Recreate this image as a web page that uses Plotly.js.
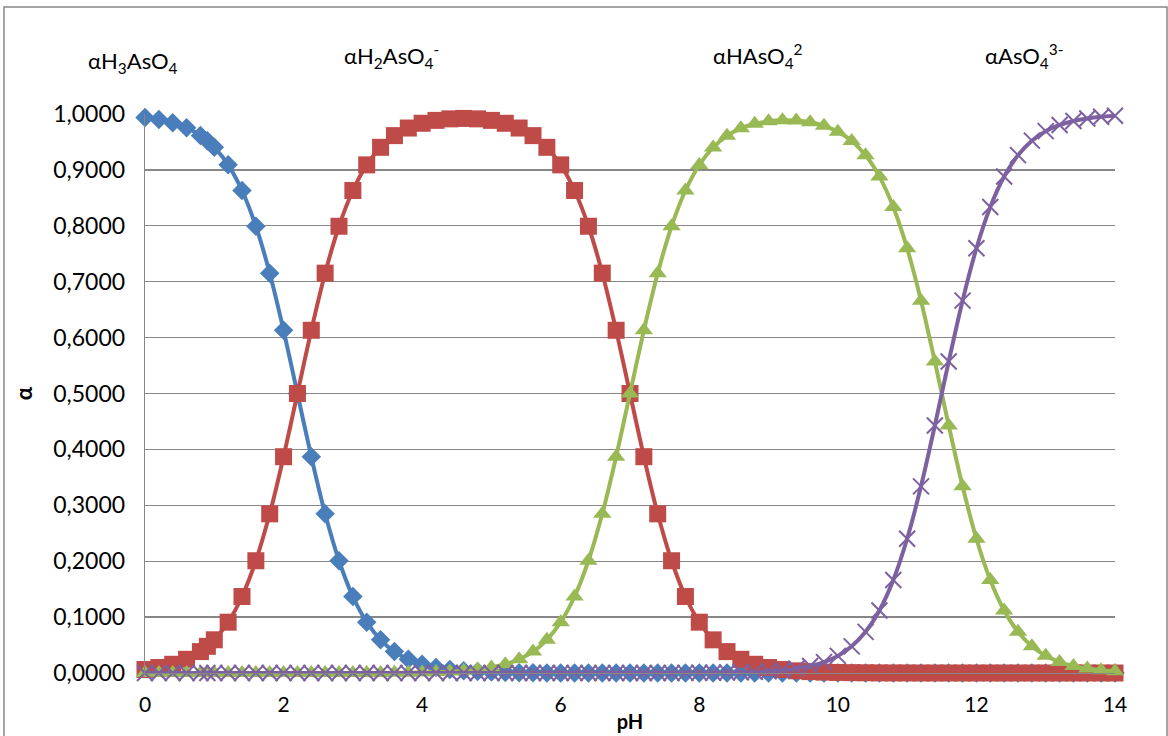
<!DOCTYPE html>
<html>
<head>
<meta charset="utf-8">
<script src="https://cdn.plot.ly/plotly-3.0.1.min.js"></script>
<style>
html,body{margin:0;padding:0;background:#fff;}
#chart{width:1168px;height:736px;}
</style>
</head>
<body>
<div id="chart"></div>
<script>
var pH = [0,0.2,0.4,0.6,0.8,0.9,1.0,1.2,1.4,1.6,1.8,2.0,2.2,2.4,2.6,2.8,3.0,3.2,3.4,3.6,3.8,4.0,4.2,4.4,4.6,4.8,5.0,5.2,5.4,5.6,5.8,6.0,6.2,6.4,6.6,6.8,7.0,7.2,7.4,7.6,7.8,8.0,8.2,8.4,8.6,8.8,9.0,9.2,9.4,9.6,9.8,10.0,10.2,10.4,10.6,10.8,11.0,11.2,11.4,11.6,11.8,12.0,12.2,12.4,12.6,12.8,13.0,13.2,13.4,13.6,13.8,14.0];

var aH3AsO4 = [0.9937,0.9901,0.9844,0.9755,0.9617,0.9523,0.9406,0.9091,0.8632,0.7992,0.7153,0.6131,0.5000,0.3869,0.2847,0.2008,0.1368,0.0909,0.0593,0.0383,0.0245,0.0156,0.0099,0.0062,0.0039,0.0025,0.0016,0.0010,0.0006,0.0004,0.0002,0.0002,0.0001,0.0001,
0,0,0,0,0,0,0,0,0,0,0,0,0,0,0,0,0,0,0,0,0,0,0,0,0,0,0,0,0,0,0,0,0,0,0,0,0,0];

var aH2AsO4 = [0.0063,0.0099,0.0156,0.0245,0.0383,0.0477,0.0594,0.0909,0.1368,0.2008,0.2847,0.3869,0.5000,0.6131,0.7153,0.7992,0.8631,0.9090,0.9404,0.9613,0.9749,0.9834,0.9886,0.9913,0.9921,0.9913,0.9886,0.9834,0.9749,0.9613,0.9404,0.9090,0.8631,0.7992,0.7153,0.6131,0.5000,0.3869,0.2847,0.2008,0.1368,0.0909,0.0593,0.0383,0.0245,0.0156,0.0099,0.0062,0.0039,0.0025,0.0016,0.0010,0.0006,0.0004,0.0002,0.0001,0.0001,
0,0,0,0,0,0,0,0,0,0,0,0,0,0,0];

var aHAsO4 = [0,0,0,0,0,0,0,0,0,0,0,0,0,0,0,0,
0.0001,0.0001,0.0002,0.0004,0.0006,0.0010,0.0016,0.0025,0.0039,0.0062,0.0099,0.0156,0.0245,0.0383,0.0593,0.0909,0.1368,0.2008,0.2847,0.3869,0.5000,0.6131,0.7152,0.7991,0.8631,0.9088,0.9402,0.9610,0.9743,0.9825,0.9870,0.9888,0.9882,0.9851,0.9789,0.9684,0.9517,0.9261,0.8880,0.8336,0.7597,0.6661,0.5573,0.4427,0.3339,0.2402,0.1663,0.1118,0.0736,0.0477,0.0307,0.0196,0.0124,0.0079,0.0050,0.0032];

var aAsO4 = [0,0,0,0,0,0,0,0,0,0,0,0,0,0,0,0,0,0,0,0,0,0,0,0,0,0,0,0,0,0,0,0,0,0,0,0,0,0,
0.0001,0.0001,0.0002,0.0003,0.0005,0.0008,0.0012,0.0020,0.0031,0.0050,0.0078,0.0124,0.0195,0.0306,0.0477,0.0736,0.1118,0.1663,0.2402,0.3339,0.4427,0.5573,0.6661,0.7598,0.8337,0.8882,0.9264,0.9523,0.9693,0.9804,0.9876,0.9921,0.9950,0.9968];

var speciesLabels = ['αH<sub>3</sub>AsO<sub>4</sub>','αH<sub>2</sub>AsO<sub>4</sub><sup>-</sup>','αHAsO<sub>4</sub><sup>2</sup>','αAsO<sub>4</sub><sup>3-</sup>'];
var labelX = [-0.0124, 0.2546, 0.632, 0.9062];
var labelY = [1.093, 1.104, 1.104, 1.104];

var FONT = 'Lato, "Open Sans", sans-serif';

function tr(y, color, sym, size, lineCol, lw) {
  var m = {symbol: sym, size: size, color: color};
  if (lineCol) { m.line = {color: lineCol, width: lw}; } else { m.line = {width: 0}; }
  return {x: pH, y: y, type: 'scatter', mode: 'lines+markers', cliponaxis: false,
    line: {color: color, width: 4, shape: 'spline', smoothing: 0.8},
    marker: m, showlegend: false, hoverinfo: 'x+y'};
}

var data = [
  tr(aH3AsO4, '#4A7EBB', 'diamond', 15),
  tr(aH2AsO4, '#BE4B48', 'square', 17),
  tr(aHAsO4, '#98B954', 'triangle-up', 16),
  tr(aAsO4, '#7D60A0', 'x-thin-open', 16, '#7D60A0', 2)
];

var annotations = speciesLabels.map(function(t, i){
  return {text: t, x: labelX[i], y: labelY[i], xref: 'paper', yref: 'paper', showarrow: false,
    xanchor: 'center', yanchor: 'middle', font: {family: FONT, size: 22, color: '#000'}};
});

var layout = {
  width: 1168, height: 736,
  margin: {l: 145, r: 53, t: 114, b: 63, pad: 0},
  paper_bgcolor: '#fff', plot_bgcolor: '#fff',
  separators: ', ',
  font: {family: FONT, color: '#000'},
  xaxis: {range: [0, 14], dtick: 2, tick0: 0, showgrid: false, zeroline: false,
    showline: true, linecolor: '#878787', linewidth: 1.3,
    ticks: '', ticklabelstandoff: 12,
    tickfont: {family: FONT, size: 21, color: '#000'},
    title: {text: '<b>pH</b>', font: {family: FONT, size: 20, color: '#000'}, standoff: 0}},
  yaxis: {range: [0, 1], dtick: 0.1, tick0: 0, tickformat: '.4f',
    showgrid: true, gridcolor: '#878787', gridwidth: 1.3, zeroline: false,
    showline: true, linecolor: '#878787', linewidth: 1.3,
    ticks: '', ticklabelstandoff: 14,
    tickfont: {family: FONT, size: 23, color: '#000'},
    title: {text: '<b>α</b>', font: {family: FONT, size: 22, color: '#000'}, standoff: 14}},
  annotations: annotations,
  shapes: [{type: 'rect', xref: 'paper', yref: 'paper', x0: -0.1454, x1: 1.0536, y0: -0.3, y1: 1.1914,
    line: {color: '#878787', width: 1.5}, fillcolor: 'rgba(0,0,0,0)', layer: 'below'}]
};

Plotly.newPlot('chart', data, layout, {staticPlot: true});
</script>
</body>
</html>
